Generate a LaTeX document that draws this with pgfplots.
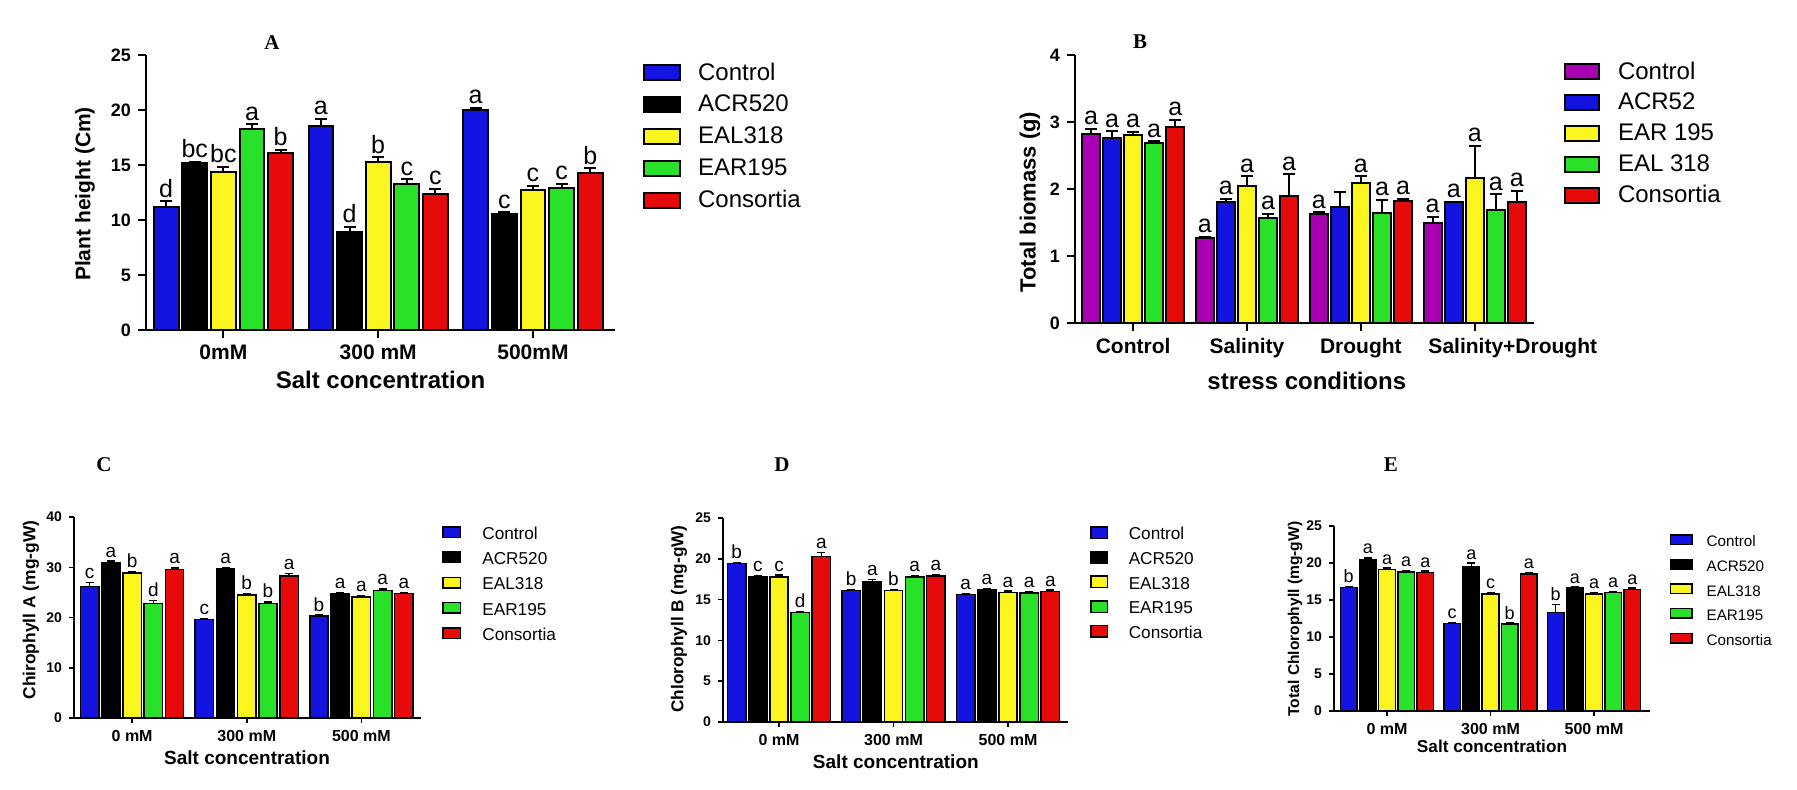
\documentclass[border=0pt]{standalone}
\usepackage{pgfplots}
\pgfplotsset{compat=1.18}
\usepackage{pgfplotstable}
\usepackage{fontspec}
\setmainfont{Liberation Sans}
\newfontfamily\titlefont{Liberation Serif}

\definecolor{cblue}{RGB}{20,20,225}
\definecolor{cblack}{RGB}{0,0,0}
\definecolor{cyellow}{RGB}{250,245,30}
\definecolor{cgreen}{RGB}{40,225,40}
\definecolor{cred}{RGB}{230,10,10}
\definecolor{cpurple}{RGB}{170,0,180}

\newcommand{\fs}[1]{\fontsize{#1}{#1}\selectfont}

% Panel A: plant height (cm)
\pgfplotstableread{
g y1 e1 l1 y2 e2 l2 y3 e3 l3 y4 e4 l4 y5 e5 l5
0 11.2 0.5 d 15.2 0.1 bc 14.4 0.4 bc 18.3 0.4 a 16.1 0.3 b
1 18.5 0.7 a 8.9 0.5 d 15.3 0.4 b 13.3 0.4 c 12.4 0.4 c
2 20.0 0.2 a 10.5 0.2 c 12.7 0.4 c 12.9 0.4 c 14.3 0.4 b
}\tabA
% Panel B: total biomass (g)
\pgfplotstableread{
g y1 e1 l1 y2 e2 l2 y3 e3 l3 y4 e4 l4 y5 e5 l5
0 2.82 0.08 a 2.76 0.10 a 2.80 0.05 a 2.69 0.02 a 2.92 0.11 a
1 1.27 0.02 a 1.80 0.05 a 2.05 0.14 a 1.57 0.06 a 1.89 0.33 a
2 1.63 0.02 a 1.73 0.23 {} 2.09 0.10 a 1.64 0.20 a 1.82 0.03 a
3 1.49 0.09 a 1.80 0.01 a 2.16 0.48 a 1.69 0.23 a 1.80 0.17 a
}\tabB
% Panel C: chlorophyll A
\pgfplotstableread{
g y1 e1 l1 y2 e2 l2 y3 e3 l3 y4 e4 l4 y5 e5 l5
0 26.2 0.8 c 30.9 0.3 a 28.9 0.3 b 22.8 0.6 d 29.6 0.3 a
1 19.6 0.2 c 29.7 0.3 a 24.5 0.3 b 22.8 0.3 b 28.3 0.5 a
2 20.3 0.2 b 24.7 0.2 a 24.1 0.3 a 25.4 0.3 a 24.8 0.2 a
}\tabC
% Panel D: chlorophyll B
\pgfplotstableread{
g y1 e1 l1 y2 e2 l2 y3 e3 l3 y4 e4 l4 y5 e5 l5
0 19.4 0.15 b 17.8 0.15 c 17.8 0.2 c 13.4 0.15 d 20.3 0.5 a
1 16.1 0.15 b 17.2 0.25 a 16.1 0.15 b 17.8 0.15 a 17.9 0.15 a
2 15.6 0.15 a 16.2 0.15 a 15.9 0.15 a 15.8 0.15 a 16.0 0.15 a
}\tabD
% Panel E: total chlorophyll
\pgfplotstableread{
g y1 e1 l1 y2 e2 l2 y3 e3 l3 y4 e4 l4 y5 e5 l5
0 16.7 0.15 b 20.5 0.2 a 19.1 0.2 a 18.8 0.2 a 18.7 0.2 a
1 11.8 0.15 c 19.5 0.5 a 15.8 0.2 c 11.75 0.15 b 18.5 0.2 a
2 13.3 1.1 b 16.6 0.15 a 15.8 0.2 a 16.0 0.15 a 16.4 0.2 a
}\tabE

% #1 table, #2 series index, #3 colour, #4 bar shift, #5 pt per y unit, #6 legend
\newcommand{\barplot}[6]{%
  \addplot[fill=#3, draw=black, bar shift=#4,
    visualization depends on={#5*\thisrow{e#2} \as \eshift}]
    table[x=g, y=y#2, y error=e#2, meta=l#2] {#1};
  \addlegendentry{#6}
}

\pgfplotsset{
  prism/.style={
    scale only axis, anchor=south west, clip=false,
    ybar, enlargelimits=false, ymin=0,
    axis lines*=left,
    tick align=outside,
    xtick={0,1,2},
    minor tick num=0,
    /pgf/number format/assume math mode=true,
    point meta=explicit symbolic,
    nodes near coords,
    every node near coord/.append style={yshift=\eshift*1pt, inner sep=1.5pt, text=black},
    error bars/y dir=plus, error bars/y explicit,
    legend cell align=left,
    legend style={draw=none, fill=none, anchor=north west, inner sep=0pt, outer sep=0pt,
       nodes={inner sep=0pt, text height=0.72em, text depth=0pt}},
    bar width=0.16,
    every axis title shift=0pt,
    title style={anchor=center, font=\titlefont\bfseries\fs{10.5}},
  },
  big/.style={
    axis line style={line width=1pt, black},
    major tick style={line width=1pt, black}, major tick length=4pt,
    every axis plot/.append style={line width=1pt},
    error bars/error bar style={line width=1pt, black},
    error bars/error mark options={rotate=90, mark size=3pt, line width=1pt, black},
  },
  small/.style={
    axis line style={line width=0.75pt, black},
    major tick style={line width=0.75pt, black}, major tick length=2.5pt,
    every axis plot/.append style={line width=0.75pt},
    error bars/error bar style={line width=0.75pt, black},
    error bars/error mark options={rotate=90, mark size=2pt, line width=0.75pt, black},
    yticklabel style={font=\fs{7}\bfseries},
    xticklabel style={font=\fs{8}\bfseries},
  },
}

\begin{document}
\begin{tikzpicture}
\useasboundingbox (0,0) rectangle (898.5pt,-395pt);

% ---------------- A ----------------
\begin{axis}[prism, big, at={(73pt,-165pt)}, width=234.5pt, height=137.5pt,
  xmin=-0.5, xmax=2.53, ymax=25, ytick={0,5,10,15,20,25},
  xticklabels={0mM,300 mM,500mM},
  yticklabel style={font=\fs{9}\bfseries},
  xticklabel style={font=\fs{10.5}\bfseries},
  every node near coord/.append style={font=\fs{12.5}},
  title={A}, title style={at={(axis description cs:0.2687,1.047)}, anchor=center},
  ylabel={Plant height (Cm)}, ylabel style={at={(axis description cs:-0.13,0.4945)}, anchor=center, font=\fs{10.5}\bfseries},
  xlabel={Salt concentration}, xlabel style={at={(axis description cs:0.5,-0.182)}, anchor=center, font=\fs{12}\bfseries},
  legend style={at={(axis description cs:1.06,0.9655)}, font=\fs{12}, row sep=7.4pt},
  legend image code/.code={\draw[#1] (0.5pt,-3.75pt) rectangle (18.5pt,3.75pt); \path (27pt,0pt);},
]
\barplot{\tabA}{1}{cblue}{-0.37}{5.5}{Control}
\barplot{\tabA}{2}{cblack}{-0.185}{5.5}{ACR520}
\barplot{\tabA}{3}{cyellow}{0}{5.5}{EAL318}
\barplot{\tabA}{4}{cgreen}{0.185}{5.5}{EAR195}
\barplot{\tabA}{5}{cred}{0.37}{5.5}{Consortia}
\end{axis}

% ---------------- B ----------------
\begin{axis}[prism, big, at={(537.5pt,-161.5pt)}, width=229.5pt, height=134pt,
  xmin=-0.51, xmax=3.52, ymax=4, ytick={0,1,2,3,4}, xtick={0,1,2,3},
  xticklabels={Control,Salinity,Drought,\hspace*{38pt}Salinity+Drought},
  yticklabel style={font=\fs{9}\bfseries},
  xticklabel style={font=\fs{10.5}\bfseries},
  every node near coord/.append style={font=\fs{12.5}},
  title={B}, title style={at={(axis description cs:0.1416,1.0485)}, anchor=center},
  ylabel={Total biomass (g)}, ylabel style={at={(axis description cs:-0.098,0.451)}, anchor=center, font=\fs{11}\bfseries},
  xlabel={stress conditions}, xlabel style={at={(axis description cs:0.505,-0.216)}, anchor=center, font=\fs{12}\bfseries},
  legend style={at={(axis description cs:1.0654,0.9683)}, font=\fs{12}, row sep=6.9pt},
  legend image code/.code={\draw[#1] (0.5pt,-3.75pt) rectangle (17.5pt,3.75pt); \path (26.5pt,0pt);},
]
\barplot{\tabB}{1}{cpurple}{-0.37}{33.5}{Control}
\barplot{\tabB}{2}{cblue}{-0.185}{33.5}{ACR52}
\barplot{\tabB}{3}{cyellow}{0}{33.5}{EAR 195}
\barplot{\tabB}{4}{cgreen}{0.185}{33.5}{EAL 318}
\barplot{\tabB}{5}{cred}{0.37}{33.5}{Consortia}
\end{axis}

% ---------------- C ----------------
\begin{axis}[prism, small, at={(37pt,-359pt)}, width=173.5pt, height=100.5pt,
  xmin=-0.507, xmax=2.52, ymax=40, ytick={0,10,20,30,40},
  xticklabels={0 mM,300 mM,500 mM},
  every node near coord/.append style={font=\fs{9.5}},
  title={C}, title style={at={(axis description cs:0.0865,1.2587)}, anchor=center},
  ylabel={Chirophyll A (mg-gW)}, ylabel style={at={(axis description cs:-0.124,0.537)}, anchor=center, font=\fs{8.7}\bfseries},
  xlabel={Salt concentration}, xlabel style={at={(axis description cs:0.4986,-0.199)}, anchor=center, font=\fs{9.5}\bfseries},
  legend style={at={(axis description cs:1.0605,0.961)}, font=\fs{8.6}, row sep=5.45pt},
  legend image code/.code={\draw[#1] (0.375pt,-2.625pt) rectangle (9.125pt,2.625pt); \path (19.8pt,0pt);},
]
\barplot{\tabC}{1}{cblue}{-0.37}{2.5125}{Control}
\barplot{\tabC}{2}{cblack}{-0.185}{2.5125}{ACR520}
\barplot{\tabC}{3}{cyellow}{0}{2.5125}{EAL318}
\barplot{\tabC}{4}{cgreen}{0.185}{2.5125}{EAR195}
\barplot{\tabC}{5}{cred}{0.37}{2.5125}{Consortia}
\end{axis}

% ---------------- D ----------------
\begin{axis}[prism, small, at={(361.5pt,-361pt)}, width=172.5pt, height=102pt,
  xmin=-0.489, xmax=2.524, ymax=25, ytick={0,5,10,15,20,25},
  xticklabels={0 mM,300 mM,500 mM},
  every node near coord/.append style={font=\fs{9.5}},
  title={D}, title style={at={(axis description cs:0.171,1.26)}, anchor=center},
  ylabel={Chlorophyll B (mg-gW)}, ylabel style={at={(axis description cs:-0.1275,0.505)}, anchor=center, font=\fs{8.6}\bfseries},
  xlabel={Salt concentration}, xlabel style={at={(axis description cs:0.501,-0.196)}, anchor=center, font=\fs{9.5}\bfseries},
  legend style={at={(axis description cs:1.0638,0.963)}, font=\fs{8.6}, row sep=5.1pt},
  legend image code/.code={\draw[#1] (0.375pt,-2.875pt) rectangle (8.625pt,2.875pt); \path (19pt,0pt);},
]
\barplot{\tabD}{1}{cblue}{-0.37}{4.08}{Control}
\barplot{\tabD}{2}{cblack}{-0.185}{4.08}{ACR520}
\barplot{\tabD}{3}{cyellow}{0}{4.08}{EAL318}
\barplot{\tabD}{4}{cgreen}{0.185}{4.08}{EAR195}
\barplot{\tabD}{5}{cred}{0.37}{4.08}{Consortia}
\end{axis}

% ---------------- E ----------------
\begin{axis}[prism, small, at={(667pt,-355.5pt)}, width=158pt, height=92.5pt,
  xmin=-0.512, xmax=2.541, ymax=25, ytick={0,5,10,15,20,25},
  xticklabels={0 mM,300 mM,500 mM},
  every node near coord/.append style={font=\fs{9}},
  title={E}, title style={at={(axis description cs:0.18,1.33)}, anchor=center},
  ylabel={Total Chlorophyll (mg-gW)}, ylabel style={at={(axis description cs:-0.123,0.497)}, anchor=center, font=\fs{7.8}\bfseries},
  xlabel={Salt concentration}, xlabel style={at={(axis description cs:0.5,-0.189)}, anchor=center, font=\fs{8.6}\bfseries},
  legend style={at={(axis description cs:1.063,0.965)}, font=\fs{7.6}, row sep=5.1pt},
  legend image code/.code={\draw[#1] (0.375pt,-2.375pt) rectangle (11.125pt,2.375pt); \path (18pt,0pt);},
]
\barplot{\tabE}{1}{cblue}{-0.37}{3.7}{Control}
\barplot{\tabE}{2}{cblack}{-0.185}{3.7}{ACR520}
\barplot{\tabE}{3}{cyellow}{0}{3.7}{EAL318}
\barplot{\tabE}{4}{cgreen}{0.185}{3.7}{EAR195}
\barplot{\tabE}{5}{cred}{0.37}{3.7}{Consortia}
\end{axis}
\end{tikzpicture}
\end{document}
